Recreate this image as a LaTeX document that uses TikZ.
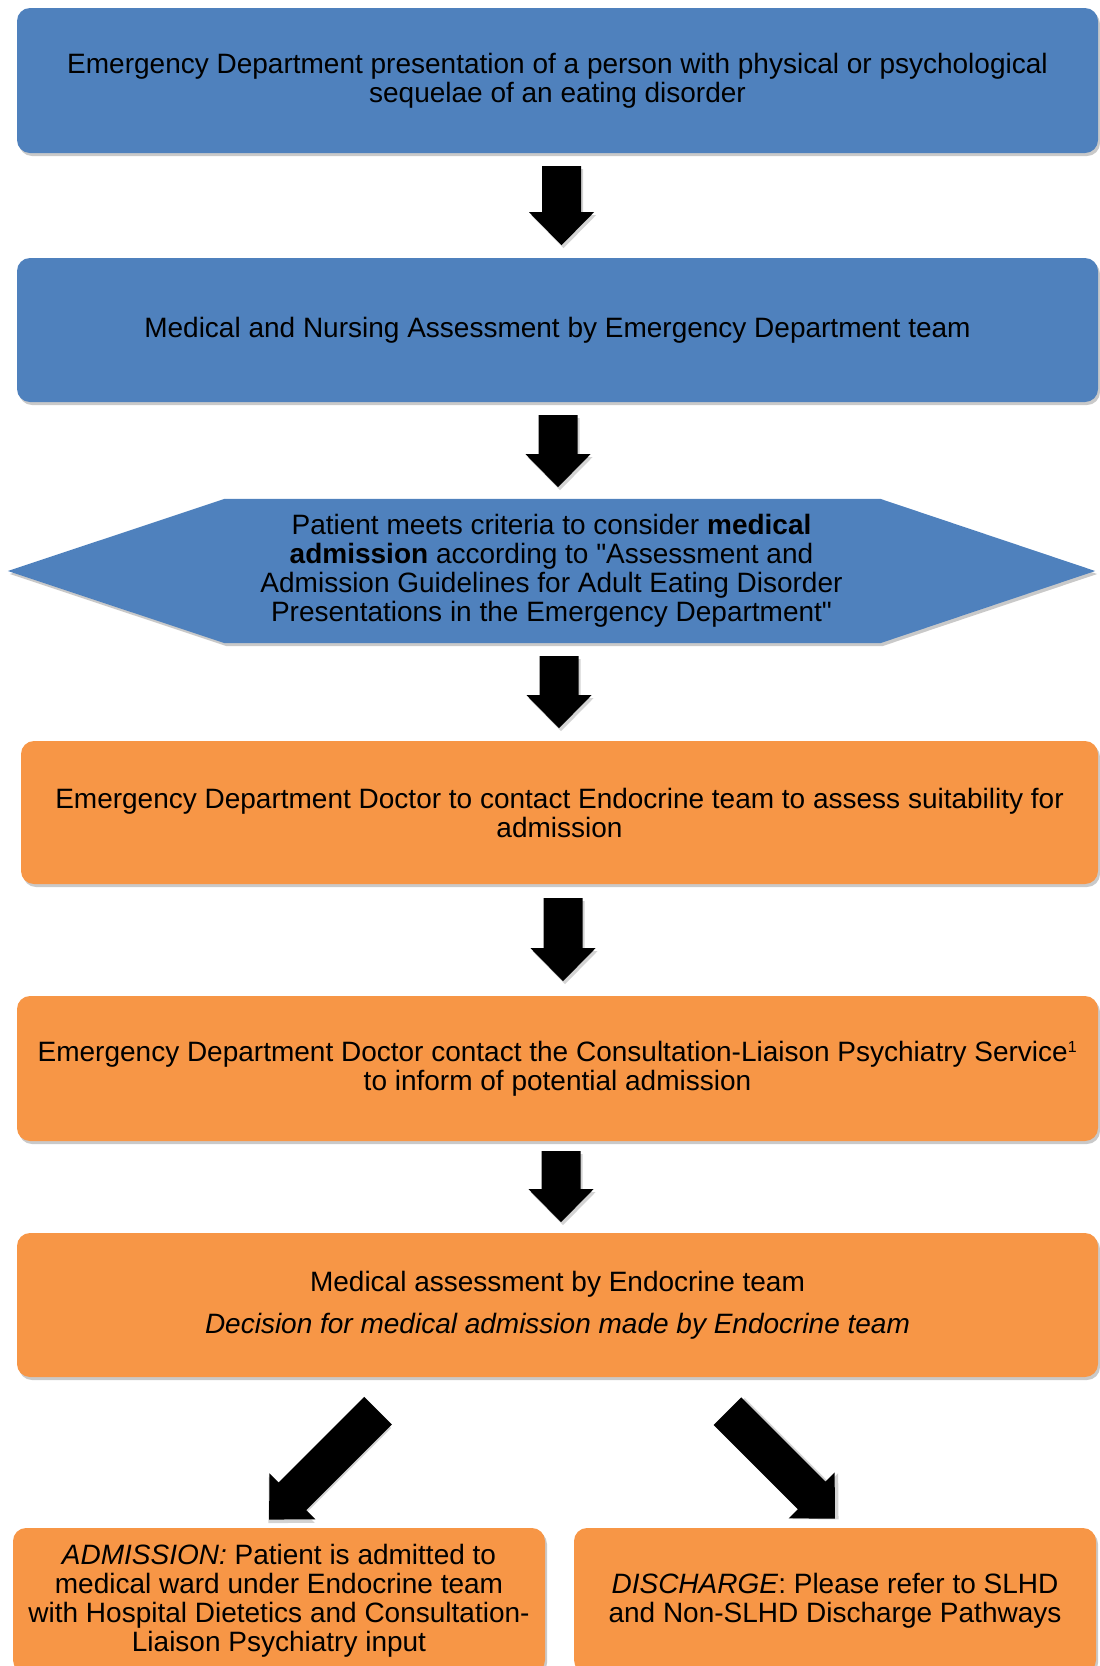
\documentclass[tikz,border=0pt]{standalone}
\usepackage{fontspec}
\setmainfont{Liberation Sans}
\newfontfamily\qfont{Liberation Sans}[Ligatures=TeXOff]
\usetikzlibrary{shadows,calc,backgrounds}
\definecolor{boxblue}{HTML}{4F81BD}
\definecolor{boxorange}{HTML}{F79646}
\tikzset{
  pics/barrow/.style={code={
    \fill[black!50, opacity=0.35] (-17.5,3) -- (21.5,3) -- (21.5,{#1-30}) -- (34.5,{#1-30}) -- (2,{#1+3})
      -- (-30.5,{#1-30}) -- (-17.5,{#1-30}) -- cycle;
    \fill[black] (-19.5,0) -- (19.5,0) -- (19.5,{#1-33}) -- (32.5,{#1-33}) -- (0,#1)
      -- (-32.5,{#1-33}) -- (-19.5,{#1-33}) -- cycle;}},
  myshadow/.style={drop shadow={shadow xshift=2pt, shadow yshift=-3pt, opacity=0.3, fill=black!70}},
  box/.style={rounded corners=13pt, minimum width=1081pt, minimum height=145pt,
    inner sep=0pt, align=center, font=\fontsize{28}{29}\selectfont, myshadow},
  bluebox/.style={box, fill=boxblue},
  orangebox/.style={box, fill=boxorange},
  hexnode/.style={minimum width=1087pt, minimum height=144pt, inner sep=0pt,
    align=center, font=\fontsize{28}{29}\selectfont}
}
\begin{document}
\begin{tikzpicture}[x=1pt,y=-1pt]
\useasboundingbox (0,0) rectangle (1100,1666);
\node[bluebox] (b1) at (557.5,80.5) {Emergency Department presentation of a person with physical or psychological\\ sequelae of an eating disorder};
\node[bluebox, minimum height=144pt] (b2) at (557.5,330) {Medical and Nursing Assessment by Emergency Department team};
\node[hexnode] (hex) at (551.5,571) {Patient meets criteria to consider \textbf{medical}\\ \textbf{admission} according to {\qfont\char34}Assessment and\\ Admission Guidelines for Adult Eating Disorder\\ Presentations in the Emergency Department{\qfont\char34}};
\begin{pgfonlayer}{background}
\fill[boxblue, myshadow] (hex.west) -- ($(hex.north west)+(217,0)$) -- ($(hex.north east)+(-215,0)$) -- (hex.east)
  -- ($(hex.south east)+(-215,0)$) -- ($(hex.south west)+(217,0)$) -- cycle;
\end{pgfonlayer}
\node[orangebox, minimum width=1077pt, minimum height=143pt] (b3) at (559.5,812.5) {Emergency Department Doctor to contact Endocrine team to assess suitability for\\ admission};
\node[orangebox] (b4) at (557.5,1068.5) {Emergency Department Doctor contact the Consultation-Liaison Psychiatry Service\textsuperscript{\fontsize{16}{16}\selectfont 1}\\ to inform of potential admission};
\node[orangebox, minimum height=144pt] (b5) at (557.5,1305) {Medical assessment by Endocrine team\\[13pt] \textit{Decision for medical admission made by Endocrine team}};
\node[orangebox, minimum width=532pt] (b6) at (279,1600.5) {\textit{ADMISSION:} Patient is admitted to\\ medical ward under Endocrine team\\ with Hospital Dietetics and Consultation-\\ Liaison Psychiatry input};
\node[orangebox, minimum width=522pt] (b7) at (835,1600.5) {\textit{DISCHARGE}: Please refer to SLHD\\ and Non-SLHD Discharge Pathways};
\pic at ($(b1.south)+(4,13)$) {barrow=79};
\pic at ($(b2.south)+(0.5,13)$) {barrow=72};
\pic at ($(hex.south)+(7.5,13)$) {barrow=72};
\pic at ($(b3.south)+(3.5,14)$) {barrow=83};
\pic at ($(b4.south)+(3.5,10)$) {barrow=71};
\pic[rotate=-45] at ($(b5.south)+(-179.5,33.5)$) {barrow=154};
\pic[rotate=45] at ($(b5.south)+(170,34)$) {barrow=152};
\end{tikzpicture}
\end{document}
